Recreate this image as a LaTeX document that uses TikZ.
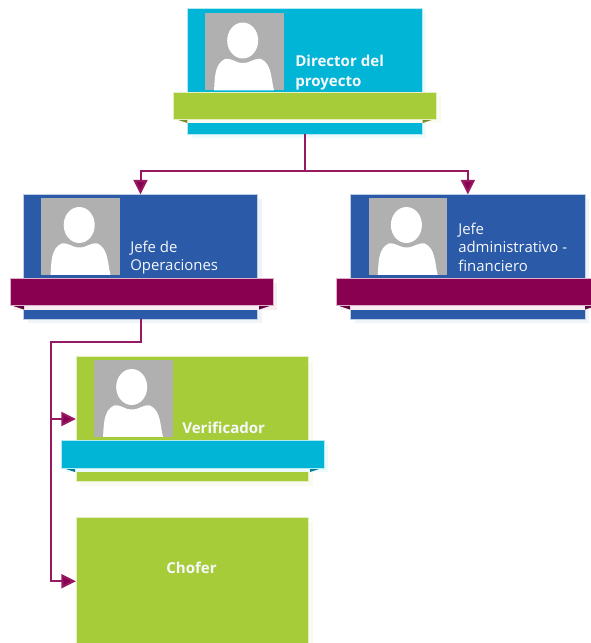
\documentclass[tikz,border=0pt]{standalone}
\usepackage{fontspec}
\setmainfont{Open Sans}
\usetikzlibrary{arrows.meta}
\definecolor{cCyan}{HTML}{00B5D6}
\definecolor{cBlue}{HTML}{2A5AA8}
\definecolor{cGreen}{HTML}{A6CC3A}
\definecolor{cPlum}{HTML}{8A0050}
\definecolor{cGray}{HTML}{B0B0B0}
\tikzset{
  px/.style={x=0.75pt,y=-0.75pt},
  cardbox/.style={draw=white!70!#1,line width=0.5pt,fill=#1,inner sep=0pt,outer sep=0pt},
  label/.style={text=white!96!cBlue,inner sep=0pt,anchor=south west,align=left,font=\fontsize{11.2pt}{13.6pt}\selectfont},
  boldlabel/.style={label,font=\fontsize{11.3pt}{14.6pt}\selectfont\bfseries},
  conn/.style={draw=cPlum!90!white,line width=1.5pt,line join=miter},
  arrowed/.style={conn,-{Triangle[length=11pt,width=10.5pt,fill=cPlum]}}
}
% \card{name}{colour}{left}{top}{right}{bottom}
\newcommand\card[6]{%
  \fill[#2!7!white] (#3+4,#4+4) rectangle (#5+4,#6+4);
  \node[cardbox=#2,minimum width=#5*0.75pt-#3*0.75pt,minimum height=#6*0.75pt-#4*0.75pt] (#1) at ({(#3+#5)/2},{(#4+#6)/2}) {};
}
% \banner{name}{colour}{left}{top}{right}{bottom}
\newcommand\banner[6]{%
  \fill[#2!7!white] (#3+4,#4+4) rectangle (#5+4,#6+4);
  \fill[#2!70!black] (#3+2,#6) -- (#3+14,#6) -- (#3+14,#6+4) -- cycle;
  \fill[#2!70!black] (#5-2,#6) -- (#5-14,#6) -- (#5-14,#6+4) -- cycle;
  \node[cardbox=#2,minimum width=#5*0.75pt-#3*0.75pt,minimum height=#6*0.75pt-#4*0.75pt] (#1) at ({(#3+#5)/2},{(#4+#6)/2}) {};
}
% \photo{name}{left}{top}
\newcommand\photo[3]{%
  \node[fill=cGray,inner sep=0pt,minimum width=59pt,minimum height=58pt] (#1) at (#2+39.3,#3+38.7) {};
  \begin{scope}[shift={(#2,#3)}]
    \fill[white] (37.7,27.5) ellipse [x radius=15.5,y radius=18];
    \fill[white] (9,77.4) .. controls (10,66) and (9,51) .. (20,46)
      .. controls (28,45) and (30,50) .. (37.7,50)
      .. controls (46,50) and (48,45) .. (56,46)
      .. controls (67,51) and (66,66) .. (69,77.4) -- cycle;
  \end{scope}
}
\begin{document}
\begin{tikzpicture}[px]
\useasboundingbox (0,0) rectangle (590,643);
% Director
\card{dir}{cCyan}{187.5}{8}{422}{134}
\photo{dirphoto}{205}{13}
\banner{dirband}{cGreen}{173.3}{92}{436.7}{119}
\node[boldlabel] (dirtext) at (295,90) {Director del\\proyecto};
% Jefe de Operaciones
\card{jop}{cBlue}{23.5}{194.5}{257.5}{319}
\photo{jopphoto}{41.5}{197.5}
\banner{jopband}{cPlum}{10}{278.5}{273}{305.5}
\node[label] (joptext) at (130,274.5) {Jefe de\\Operaciones};
% Jefe administrativo
\card{adm}{cBlue}{350.7}{194.5}{585}{319}
\photo{admphoto}{368.7}{197.5}
\banner{admband}{cPlum}{336}{278.5}{599}{305.5}
\node[label] (admtext) at (458,271.5) {Jefe\\administrativo -\\financiero};
% Verificador
\card{ver}{cGreen}{76}{356.5}{308.7}{481.5}
\photo{verphoto}{94}{359.5}
\banner{verband}{cCyan}{61}{440}{324}{468}
\node[boldlabel] (vertext) at (182,433.5) {Verificador};
% Chofer
\card{cho}{cGreen}{76}{517.5}{308.7}{645}
\node[boldlabel,anchor=base,font=\fontsize{11.3pt}{13pt}\selectfont\bfseries] (chotext) at (191.5,573.5) {Chofer};
% Connectors
\coordinate (trunk) at (51,342);
\draw[arrowed] (dir.south) -- ++(0,37) -| (jop.north);
\draw[arrowed] (dir.south) -- ++(0,37) -| (adm.north);
\draw[conn] (jop.south) -- ++(0,23) -| (trunk |- ver.west);
\draw[arrowed] (trunk) |- (ver.west);
\draw[arrowed] (trunk) |- (cho.west);
\end{tikzpicture}
\end{document}
